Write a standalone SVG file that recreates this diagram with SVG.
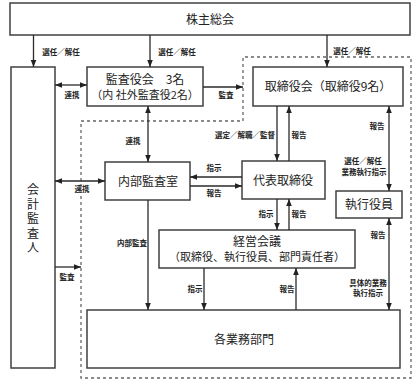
<svg xmlns="http://www.w3.org/2000/svg" width="416" height="386" viewBox="0 0 416 386">
<style>
.box{fill:#fff;stroke:#404040;stroke-width:1.5}
.t{font-family:"Noto Sans CJK JP","Noto Sans",sans-serif;font-size:12px;fill:#222;text-anchor:middle}
.v{writing-mode:vertical-rl;letter-spacing:2.5px}
.s{font-family:"Noto Sans CJK JP","Noto Sans",sans-serif;font-size:7.5px;font-weight:bold;fill:#222;text-anchor:middle}
.c{fill:none;stroke:#2a2a2a;stroke-width:1.3}
.one{marker-end:url(#ah)}
.two{marker-start:url(#ah);marker-end:url(#ah)}
.dash{fill:none;stroke:#666;stroke-width:1.3;stroke-dasharray:3 3}
</style>
<defs>
<marker id="ah" viewBox="0 0 10 10" refX="10" refY="5" markerWidth="7" markerHeight="7" markerUnits="userSpaceOnUse" orient="auto-start-reverse">
<path d="M0,1 L10,5 L0,9 z" fill="#222"/>
</marker>
</defs>
<rect width="416" height="386" fill="#fff"/>
<path class="dash" d="M81,121 L243,121 L243,57 L411,57 L411,378 L81,378 Z"/>

<g id="shareholders"><rect class="box" x="10" y="3" width="400" height="32"/><text class="t" x="210" y="24">株主総会</text></g>
<g id="auditor"><rect class="box" x="11" y="67" width="44" height="301"/>
<text class="t v" x="33" y="220">会計監査人</text></g>
<g id="kansayakukai"><rect class="box" x="87" y="67" width="116" height="39"/><text class="t" x="145" y="83.5">監査役会　3名</text><text class="t" x="145" y="99" style="font-size:11px">（内 社外監査役2名）</text></g>
<g id="torishimariyakukai"><rect class="box" x="253" y="67" width="150" height="39"/><text class="t" x="328" y="91">取締役会（取締役9名）</text></g>
<g id="naibukansa"><rect class="box" x="105" y="162" width="85" height="38"/><text class="t" x="148" y="186">内部監査室</text></g>
<g id="daihyo"><rect class="box" x="242" y="161" width="83" height="38"/><text class="t" x="283" y="185">代表取締役</text></g>
<g id="shikkoyakuin"><rect class="box" x="336" y="191" width="66" height="27"/><text class="t" x="369" y="209">執行役員</text></g>
<g id="keieikaigi"><rect class="box" x="159" y="230" width="196" height="38"/><text class="t" x="257" y="246">経営会議</text><text class="t" x="257" y="261" style="font-size:11px">（取締役、執行役員、部門責任者）</text></g>
<g id="gyomubumon"><rect class="box" x="87" y="310" width="313" height="58"/><text class="t" x="244" y="344">各業務部門</text></g>

<g id="connectors">
<line class="c one" x1="33.5" y1="35" x2="33.5" y2="67"/>
<line class="c one" x1="150" y1="35" x2="150" y2="67"/>
<line class="c one" x1="327" y1="35" x2="327" y2="67"/>
<line class="c two" x1="55" y1="85" x2="87" y2="85"/>
<line class="c one" x1="203" y1="87" x2="243" y2="87"/>
<line class="c two" x1="148" y1="106" x2="148" y2="162"/>
<line class="c two" x1="55" y1="181" x2="105" y2="181"/>
<line class="c one" x1="277" y1="106" x2="277" y2="161"/>
<line class="c one" x1="289" y1="161" x2="289" y2="106"/>
<line class="c two" x1="389" y1="106" x2="389" y2="191"/>
<line class="c one" x1="242" y1="177" x2="190" y2="177"/>
<line class="c one" x1="190" y1="186" x2="242" y2="186"/>
<line class="c one" x1="277" y1="199" x2="277" y2="230"/>
<line class="c one" x1="289" y1="230" x2="289" y2="199"/>
<line class="c one" x1="148" y1="200" x2="148" y2="310"/>
<line class="c one" x1="204" y1="268" x2="204" y2="310"/>
<line class="c one" x1="296" y1="310" x2="296" y2="268"/>
<line class="c two" x1="389" y1="218" x2="389" y2="310"/>
<line class="c one" x1="55" y1="267" x2="81" y2="267"/>
<text class="s" x="61" y="55">選任／解任</text>
<text class="s" x="177" y="55">選任／解任</text>
<text class="s" x="352" y="54">選任／解任</text>
<text class="s" x="72" y="98">連携</text>
<text class="s" x="226" y="98">監査</text>
<text class="s" x="133" y="144">連携</text>
<text class="s" x="82" y="192">連携</text>
<text class="s" x="245" y="138">選定／解職／監督</text>
<text class="s" x="299" y="138">報告</text>
<text class="s" x="377" y="129">報告</text>
<text class="s" x="363" y="164">選任／解任</text>
<text class="s" x="364" y="175">業務執行指示</text>
<text class="s" x="214" y="171">指示</text>
<text class="s" x="214" y="196">報告</text>
<text class="s" x="266" y="217">指示</text>
<text class="s" x="299" y="217">報告</text>
<text class="s" x="378" y="238">報告</text>
<text class="s" x="368" y="286">具体的業務</text>
<text class="s" x="368" y="296">執行指示</text>
<text class="s" x="132" y="246">内部監査</text>
<text class="s" x="67" y="280">監査</text>
<text class="s" x="195" y="292">指示</text>
<text class="s" x="287" y="292">報告</text>
</g>
</svg>
